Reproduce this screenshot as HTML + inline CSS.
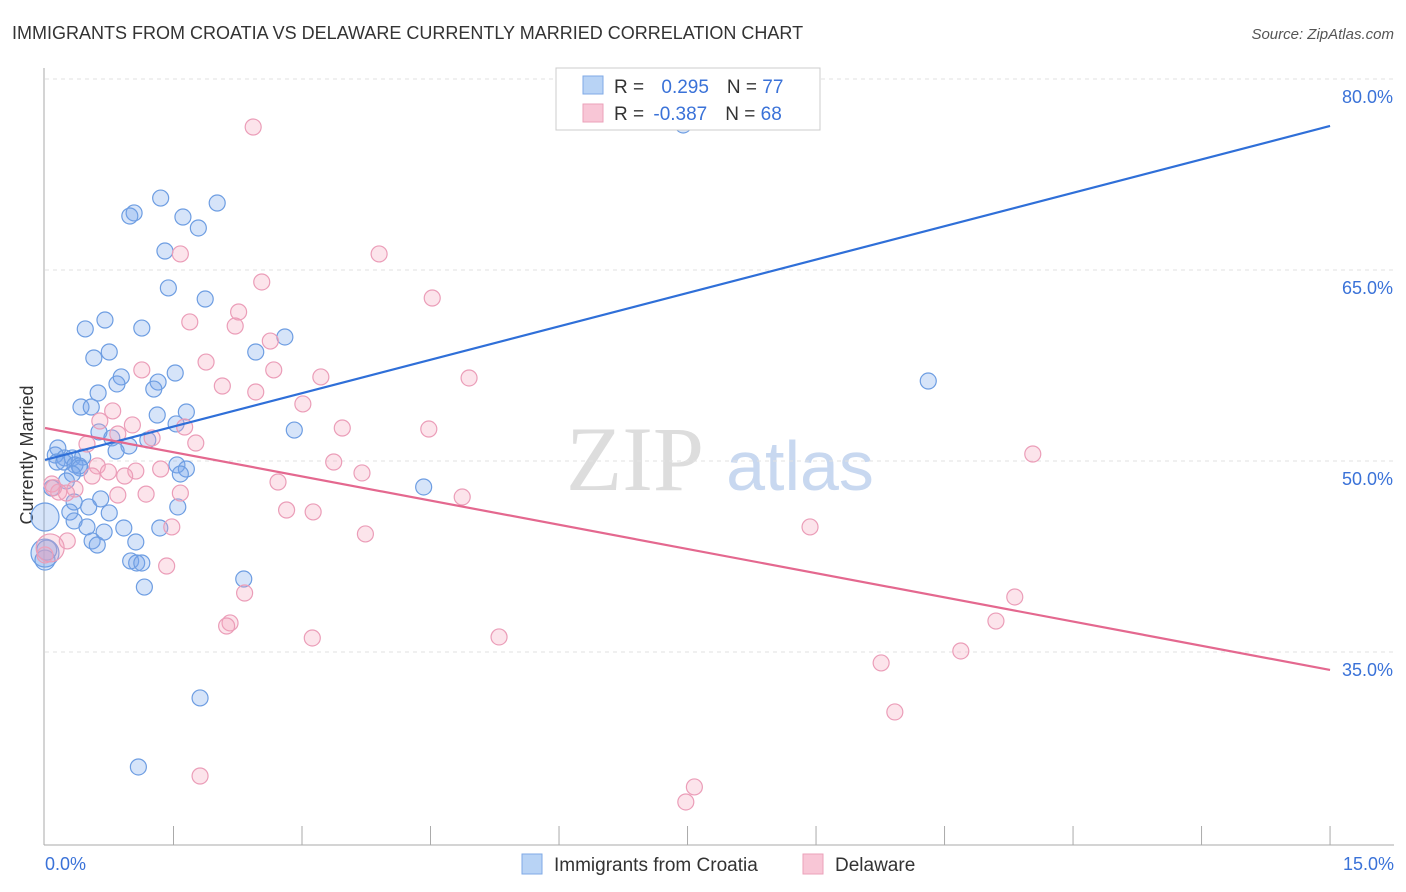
<!DOCTYPE html>
<html><head><meta charset="utf-8"><style>
body{margin:0;background:#fff;font-family:"Liberation Sans",sans-serif;}
svg{display:block}
</style></head><body>
<svg id="chart" width="1406" height="892" xmlns="http://www.w3.org/2000/svg">
<text x="12" y="39" font-size="18" fill="#333">IMMIGRANTS FROM CROATIA VS DELAWARE CURRENTLY MARRIED CORRELATION CHART</text>
<text x="1394" y="39" font-size="15" fill="#555" font-style="italic" text-anchor="end">Source: ZipAtlas.com</text>
<text x="33" y="455" font-size="18" fill="#333" text-anchor="middle" transform="rotate(-90 33 455)">Currently Married</text>
<g>
<text x="635" y="490" font-size="92" fill="#ddd" text-anchor="middle" font-family="Liberation Serif,serif">ZIP</text>
<text x="800" y="490" font-size="70" fill="#c8d8f0" text-anchor="middle">atlas</text>
</g>
<g id="grid"></g><g id="axes"></g><g id="pts"></g><g id="lines"></g>
<g>
<rect x="556" y="68" width="264" height="62" fill="#fff" stroke="#ccc"/>
<rect x="583" y="76" width="20" height="18" fill="#b8d3f5" stroke="#7fa9e6"/>
<rect x="583" y="104" width="20" height="18" fill="#f8c6d6" stroke="#eba1ba"/>
<text x="614" y="93" font-size="19" fill="#333">R = <tspan fill="#3a72d8" dx="12">0.295</tspan><tspan dx="18" fill="#333">N = </tspan><tspan fill="#3a72d8">77</tspan></text>
<text x="614" y="120" font-size="19" fill="#333">R = <tspan fill="#3a72d8" dx="4">-0.387</tspan><tspan dx="18" fill="#333">N = </tspan><tspan fill="#3a72d8">68</tspan></text>
</g>
<g>
<rect x="522" y="854" width="20" height="20" fill="#b8d3f5" stroke="#7fa9e6"/>
<text x="554" y="871" font-size="19" fill="#333">Immigrants from Croatia</text>
<rect x="803" y="854" width="20" height="20" fill="#f8c6d6" stroke="#eba1ba"/>
<text x="835" y="871" font-size="19" fill="#333">Delaware</text>
</g>
</svg>
<script>
const yTicks=[35,50,65,80];
const yTickLabels=["35.0%","50.0%","65.0%","80.0%"];
const xTickLabels=["0.0%","15.0%"];
const blueX=[7.45,1.35,2.01,1.04,0.99,1.61,1.79,1.40,1.44,1.87,0.70,0.47,1.13,2.80,2.46,0.75,0.57,0.89,0.84,1.52,1.32,1.27,0.62,10.31,0.42,0.54,1.65,1.31,1.53,2.91,0.63,0.78,1.20,0.98,0.83,0.15,0.12,0.23,0.32,0.44,0.14,0.22,0.35,0.40,0.41,1.54,1.65,1.58,0.32,4.42,0.25,0.08,0.65,0.34,0.51,1.55,0.29,0.75,0.34,0.49,0.92,0.69,1.34,0.55,0.61,1.06,1.00,1.07,1.13,1.16,2.32,1.81,1.09,0,0,0.02,0];
const blueY=[76.39,70.65,70.26,69.48,69.24,69.16,68.3,66.49,63.59,62.72,61.07,60.37,60.44,59.74,58.56,58.56,58.09,56.6,56.05,56.91,56.2,55.65,55.34,56.28,54.24,54.24,53.85,53.61,52.91,52.43,52.28,51.81,51.65,51.18,50.78,51.02,50.47,50.24,50.24,50.31,49.92,49.92,49.69,49.61,49.45,49.69,49.37,48.98,48.98,47.96,48.43,47.88,47.02,46.78,46.39,46.39,45.99,45.92,45.29,44.82,44.74,44.42,44.74,43.72,43.4,43.64,42.15,41.99,41.99,40.1,40.73,31.39,25.97,45.6,42.77,43.0,42.22];
const blueSize=[8,8,8,8,8,8,8,8,8,8,8,8,8,8,8,8,8,8,8,8,8,8,8,8,8,8,8,8,8,8,8,8,8,8,8,8,8,8,8,8,8,8,8,8,8,8,8,8,8,8,8,8,8,8,8,8,8,8,8,8,8,8,8,8,8,8,8,8,8,8,8,8,8,14,14,10,10];
const pinkX=[2.43,1.58,3.90,2.53,4.52,2.26,1.69,2.22,2.63,1.88,1.13,2.67,3.22,4.95,2.46,2.07,3.01,0.79,0.64,1.02,1.63,1.25,0.85,0.49,1.76,3.47,4.48,11.53,3.37,0.61,0.74,1.06,1.35,0.55,0.93,3.70,0.08,0.35,0.16,0.25,0.85,1.18,1.58,4.87,2.72,2.82,3.13,8.93,1.48,3.74,0.26,1.42,2.33,11.32,2.16,2.12,11.10,3.12,5.30,10.69,9.76,9.92,1.81,7.58,7.48,0,0.06,0.1];
const pinkY=[76.23,66.26,66.26,64.06,62.8,61.7,60.92,60.6,59.42,57.77,57.15,57.15,56.6,56.52,55.42,55.89,54.48,53.93,53.14,52.83,52.67,51.81,52.12,51.33,51.41,52.59,52.51,50.55,49.92,49.61,49.14,49.21,49.37,48.82,48.82,49.06,48.19,47.8,47.56,47.48,47.33,47.4,47.48,47.17,48.35,46.15,46.0,44.82,44.82,44.27,43.72,41.75,39.63,39.32,37.28,37.04,37.43,36.1,36.18,35.08,34.14,30.29,25.26,24.4,23.22,42.62,43.17,47.9];
const pinkSize=[8,8,8,8,8,8,8,8,8,8,8,8,8,8,8,8,8,8,8,8,8,8,8,8,8,8,8,8,8,8,8,8,8,8,8,8,8,8,8,8,8,8,8,8,8,8,8,8,8,8,8,8,8,8,8,8,8,8,8,8,8,8,8,8,8,8,14,8];
const blueTrend=[50.08,76.31];
const pinkTrend=[52.59,33.59];
const trendX=[0,15];

const NS="http://www.w3.org/2000/svg";
const X=v=>45+v*85.67, Y=v=>79+(80-v)*12.733;
function mk(tag,attrs,parent){const e=document.createElementNS(NS,tag);for(const k in attrs)e.setAttribute(k,attrs[k]);parent.appendChild(e);return e;}
const grid=document.getElementById('grid'),axes=document.getElementById('axes'),pts=document.getElementById('pts'),lines=document.getElementById('lines');
yTicks.forEach((t,i)=>{
 const l=mk('line',{x1:45,x2:1394,y1:Y(t),y2:Y(t),stroke:'#e2e2e2','stroke-dasharray':'4 4'},grid);
 
 
 const tx=mk('text',{x:1393,y:Y(t)+24,'font-size':18,fill:'#3a72d8','text-anchor':'end'},axes);
 tx.textContent=yTickLabels[i];
 
 
});
const ax=mk('line',{x1:44,x2:44,y1:68,y2:845,stroke:'#aaa'},axes);


const xa=mk('line',{x1:44,x2:1394,y1:845,y2:845,stroke:'#aaa'},axes);


for(let i=1;i<=10;i++){const tk=mk('line',{x1:X(i*1.5),x2:X(i*1.5),y1:826,y2:845,stroke:'#aaa'},axes);
 
 }
const xl0=mk('text',{x:45,y:870,'font-size':18,fill:'#3a72d8'},axes);xl0.textContent=xTickLabels[0];


const xl1=mk('text',{x:1394,y:870,'font-size':18,fill:'#3a72d8','text-anchor':'end'},axes);xl1.textContent=xTickLabels[1];


blueX.forEach((v,i)=>{const c=mk('circle',{cx:X(v),cy:Y(blueY[i]),r:blueSize[i],fill:'rgba(120,165,235,0.3)',stroke:'#6d9de2','stroke-width':1.2},pts);
 
 });
pinkX.forEach((v,i)=>{const c=mk('circle',{cx:X(v),cy:Y(pinkY[i]),r:pinkSize[i],fill:'rgba(245,165,190,0.3)',stroke:'#eb9db8','stroke-width':1.2},pts);
 
 });
const bl=mk('line',{x1:X(trendX[0]),y1:Y(blueTrend[0]),x2:X(trendX[1]),y2:Y(blueTrend[1]),stroke:'#2f6fd8','stroke-width':2.2},lines);


const pl=mk('line',{x1:X(trendX[0]),y1:Y(pinkTrend[0]),x2:X(trendX[1]),y2:Y(pinkTrend[1]),stroke:'#e4688f','stroke-width':2.2},lines);


</script>
</body></html>
